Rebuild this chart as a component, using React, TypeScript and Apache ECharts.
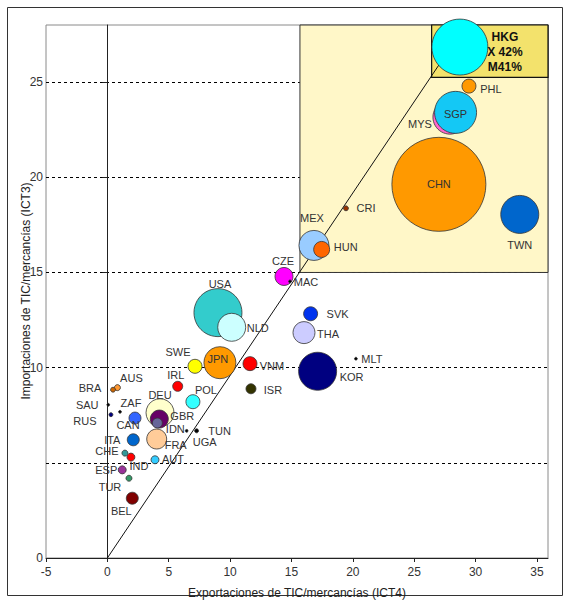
import { useEffect, useRef } from "react";
import * as echarts from "echarts";

// ---- data ----
const countries = [
  "HKG", "PHL", "SGP", "MYS", "CHN", "TWN", "CRI", "MEX", "HUN", "CZE", "MAC",
  "USA", "NLD", "SVK", "THA", "MLT", "KOR", "JPN", "SWE", "VNM", "ISR", "IRL",
  "POL", "AUS", "BRA", "SAU", "RUS", "ZAF", "CAN", "DEU", "GBR", "IDN", "UGA",
  "TUN", "FRA", "ITA", "CHE", "IND", "AUT", "ESP", "TUR", "BEL",
];
// Exportaciones de TIC / mercancías (ICT4), %
const exportShare = [
  28.72, 29.46, 28.37, 27.91, 27.01, 33.6, 19.44, 16.83, 17.46, 14.39, 14.88,
  9.01, 10.13, 16.56, 16.02, 20.25, 17.13, 9.17, 7.14, 11.62, 11.7, 5.73,
  6.97, 0.82, 0.46, 0.07, 0.29, 1.03, 2.25, 4.29, 4.23, 4.07, 6.46,
  7.27, 4.02, 2.11, 1.43, 1.92, 3.88, 1.21, 1.76, 2.03,
];
// Importaciones de TIC / mercancías (ICT3), %
const importShare = [
  26.84, 24.79, 23.41, 23.16, 19.63, 18.05, 18.37, 16.42, 16.21, 14.79, 14.53,
  12.89, 12.12, 12.83, 11.84, 10.47, 9.81, 10.26, 10.07, 10.21, 8.89, 9.02,
  8.21, 8.95, 8.84, 8.05, 7.53, 7.68, 7.35, 7.63, 7.3, 7.09, 6.68,
  6.68, 6.25, 6.21, 5.51, 5.3, 5.16, 4.63, 4.19, 3.14,
];
// relative ICT trade volume (bubble area)
const tradeVolume = [
  784, 49, 441, 289, 2209, 361, 6, 225, 64, 81, 2,
  576, 196, 49, 121, 2, 361, 256, 49, 49, 25, 25,
  49, 9, 6, 2, 4, 2, 36, 196, 81, 25, 2,
  4, 100, 36, 9, 16, 16, 16, 9, 36,
];
// Hong Kong's real shares (plotted capped inside the box)
const hkgExport = 42;
const hkgImport = 41;

// shaded zones [xFrom, yFrom] (to the top-right corner)
const outerZone = [15.69, 15];
const innerZone = [26.42, 25.25];
// diagonal reference line
const diagonal = [
  [0, 0],
  [29.2, 28],
];
const xMin = -5;
const xMax = 35.9;
const yMin = 0;
const yMax = 28;
const xTitle = "Exportaciones de TIC/mercancías (ICT4)";
const yTitle = "Importaciones de TIC/mercancías (ICT3)";

// ---- styles ----
const colors: Record<string, string> = {
  HKG: "#00FFFF", PHL: "#FF9900", SGP: "#14C8F5", MYS: "#FF66CC", CHN: "#FF9900",
  TWN: "#0066CC", CRI: "#993300", MEX: "#99CCFF", HUN: "#FF6600", CZE: "#FF00FF",
  MAC: "#000000", USA: "#33CCCC", NLD: "#CCFFFF", SVK: "#0033EE", THA: "#CCCCFF",
  MLT: "#000000", KOR: "#000080", JPN: "#FF9900", SWE: "#FFFF00", VNM: "#FF0000",
  ISR: "#333300", IRL: "#FF0000", POL: "#33FFFF", AUS: "#FF9933", BRA: "#CC6600",
  SAU: "#000000", RUS: "#000080", ZAF: "#000000", CAN: "#3366FF", DEU: "#FFFFCC",
  GBR: "#660066", IDN: "#666699", UGA: "#000000", TUN: "#000000", FRA: "#FFCC99",
  ITA: "#0066CC", CHE: "#339999", IND: "#FF0000", AUT: "#33CCFF", ESP: "#993399",
  TUR: "#339966", BEL: "#800000",
};
const labelOffset: Record<string, [number, number]> = {
  HKG: [45, 5], PHL: [22, 3], SGP: [0, 2], MYS: [-30, 7], CHN: [0, 0], TWN: [0, 31],
  CRI: [20, 0], MEX: [-2, -27], HUN: [24, -2], CZE: [-1, -15], MAC: [16, 1],
  USA: [2, -29], NLD: [26, 1], SVK: [27, 0], THA: [24, 1], MLT: [16, 0], KOR: [34, 6],
  JPN: [-2, -4], SWE: [-17, -14], VNM: [22, 2], ISR: [22, 1], IRL: [-2, -11],
  POL: [13, -12], AUS: [14, -10], BRA: [-23, -2], SAU: [-21, 0], RUS: [-26, 6],
  ZAF: [11, -9], CAN: [-7, 7], DEU: [0, -18], GBR: [23, -3], IDN: [18, 6],
  UGA: [18, 11], TUN: [23, 0], FRA: [19, 6], ITA: [-21, 0], CHE: [-18, -2],
  IND: [8, 9], AUT: [18, -1], ESP: [-16, 0], TUR: [-19, 9], BEL: [-11, 13],
};
// bubbles drawn underneath their neighbour regardless of size
const drawUnder: Record<string, number> = { MYS: 1000 };
const FONT = "'Liberation Sans', Arial, sans-serif";

export default function App() {
  const ref = useRef<HTMLDivElement>(null);

  useEffect(() => {
    if (!ref.current) return;
    const chart = echarts.init(ref.current, null, { renderer: "svg" });

    const points = countries.map((c, i) => ({
      name: c,
      value: [exportShare[i], importShare[i], tradeVolume[i]],
      itemStyle: { color: colors[c] },
      label:
        c === "HKG"
          ? {
              formatter: `HKG\nX ${hkgExport}%\nM${hkgImport}%`,
              fontWeight: "bold",
              fontSize: 12,
              lineHeight: 15,
              color: "#111",
              offset: labelOffset[c],
            }
          : { offset: labelOffset[c] },
    }));
    const key = (p: { name: string; value: number[] }) => p.value[2] + (drawUnder[p.name] || 0);
    points.sort((a, b) => key(b) - key(a));

    chart.setOption({
      animation: false,
      textStyle: { fontFamily: FONT },
      grid: {
        left: 46,
        right: 23,
        top: 25,
        bottom: 47,
        containLabel: false,
        outerBoundsMode: "none",
        show: true,
        borderColor: "#8a8a8a",
        borderWidth: 1,
        backgroundColor: "transparent",
      },
      graphic: [
        {
          type: "rect",
          shape: { x: 7.5, y: 7.5, width: 555, height: 588 },
          style: { fill: "none", stroke: "#333", lineWidth: 1 },
          silent: true,
        },
        {
          type: "text",
          x: 26,
          y: 291,
          rotation: Math.PI / 2,
          silent: true,
          style: {
            text: yTitle,
            fill: "#222",
            font: `12px ${FONT}`,
            align: "center",
            verticalAlign: "middle",
          },
        },
      ],
      xAxis: {
        type: "value",
        min: xMin,
        max: xMax,
        interval: 5,
        name: xTitle,
        nameLocation: "middle",
        nameGap: 29,
        nameTextStyle: { color: "#222", fontSize: 12, fontFamily: FONT },
        axisLine: { onZero: false, lineStyle: { color: "#222", width: 1 } },
        axisTick: { show: true, length: 4, lineStyle: { color: "#222" } },
        axisLabel: {
          color: "#333",
          fontSize: 12,
          margin: 8,
          showMaxLabel: false,
          formatter: (v: number) => (v % 5 === 0 ? String(v) : ""),
        },
        splitLine: { show: false },
      },
      yAxis: {
        type: "value",
        min: yMin,
        max: yMax,
        interval: 5,
        axisLine: { onZero: true, lineStyle: { color: "#222", width: 1 } },
        axisTick: { show: true, length: 5, lineStyle: { color: "#222" } },
        axisLabel: {
          color: "#333",
          fontSize: 12,
          margin: 3,
          showMaxLabel: false,
          formatter: (v: number) => (v % 5 === 0 && v !== 5 ? String(v) : ""),
        },
        splitLine: {
          show: true,
          showMinLine: false,
          showMaxLine: false,
          lineStyle: { color: "#000", type: [3, 3], width: 1 },
        },
      },
      series: [
        {
          type: "line",
          data: [],
          z: -1,
          silent: true,
          markArea: {
            silent: true,
            data: [
              [
                {
                  coord: [outerZone[0], outerZone[1]],
                  itemStyle: { color: "#FFF7C8", borderColor: "#333", borderWidth: 1 },
                },
                { coord: [xMax, yMax] },
              ],
              [
                {
                  coord: [innerZone[0], innerZone[1]],
                  itemStyle: { color: "#F3E26C", borderColor: "#111", borderWidth: 1.2 },
                },
                { coord: [xMax, yMax] },
              ],
            ],
          },
        },
        {
          type: "line",
          data: diagonal,
          symbol: "none",
          silent: true,
          z: 1,
          lineStyle: { color: "#111", width: 1 },
        },
        {
          type: "scatter",
          data: points,
          silent: true,
          z: 3,
          symbolSize: (v: number[]) => 2 * Math.sqrt(v[2]),
          itemStyle: { borderColor: "#333", borderWidth: 0.8, opacity: 1 },
          label: {
            show: true,
            position: "inside",
            formatter: "{b}",
            color: "#333",
            fontSize: 11,
            fontFamily: FONT,
          },
          emphasis: { disabled: true },
        },
      ],
    });

    return () => chart.dispose();
  }, []);

  return (
    <div
      ref={ref}
      style={{ position: "absolute", left: 0, top: 0, width: 571, height: 605, background: "#fff" }}
    />
  );
}
